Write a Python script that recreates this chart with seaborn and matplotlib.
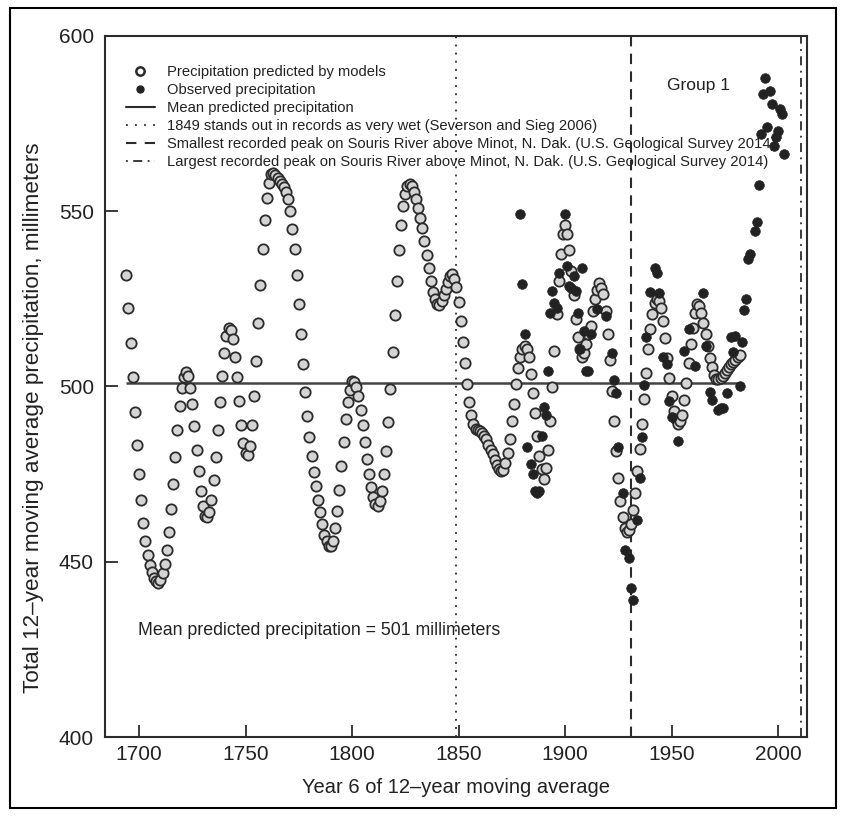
import numpy as np
import pandas as pd
import matplotlib
matplotlib.use("Agg")
import matplotlib.pyplot as plt
import seaborn as sns
from matplotlib.lines import Line2D
from matplotlib.patches import Rectangle

# ---------------- data ----------------
pred_start_year = 1694
pred_values = [
    531.7, 522.3, 512.5, 502.7, 492.7, 483.4, 474.9, 467.5, 461.0, 456.0,
    452.0, 449.1, 447.0, 445.4, 444.4, 444.0, 444.8, 446.8, 449.3, 453.3,
    458.6, 465.0, 472.3, 480.0, 487.6, 494.3, 499.7, 502.6, 504.0, 503.0,
    499.7, 494.9, 488.7, 482.0, 475.8, 470.1, 465.8, 463.0, 462.7, 464.3,
    467.7, 473.2, 479.9, 487.7, 495.5, 503.0, 509.6, 514.3, 516.6, 516.0,
    513.5, 508.5, 502.7, 495.8, 489.0, 484.0, 481.0, 480.5, 483.1, 488.9,
    497.2, 507.2, 518.2, 529.1, 539.3, 547.5, 553.9, 558.0, 560.6, 560.9,
    560.3, 559.6, 558.7, 557.7, 556.8, 555.6, 553.4, 550.1, 545.0, 539.1,
    531.7, 523.4, 514.9, 506.3, 498.4, 491.5, 485.5, 480.3, 475.7, 471.5,
    467.7, 464.2, 460.8, 457.7, 455.8, 454.4, 454.4, 456.0, 459.6, 464.6,
    470.6, 477.4, 484.2, 490.6, 495.6, 499.1, 501.5, 501.3, 499.9, 497.2,
    493.4, 489.0, 484.2, 479.4, 475.0, 471.3, 468.4, 466.6, 465.8, 467.2,
    470.1, 474.9, 481.5, 489.9, 499.4, 509.8, 520.4, 530.1, 538.9, 546.0,
    551.5, 555.0, 557.2, 557.7, 557.2, 555.6, 553.6, 551.0, 548.2, 545.1,
    541.5, 537.4, 533.7, 530.1, 527.0, 524.9, 523.6, 523.2, 524.4, 526.0,
    527.9, 529.8, 531.5, 532.0, 530.8, 528.4, 524.2, 518.8, 512.8, 506.6,
    500.6, 495.6, 492.0, 489.4, 487.9, 487.5, 487.2, 486.8, 486.0, 484.9,
    483.4, 482.0, 480.6, 479.1, 477.7, 476.5, 475.8, 476.1, 478.2, 480.9,
    485.0, 490.1, 495.1, 500.6, 505.3, 508.5, 510.8, 511.5, 510.6, 508.5,
    503.7, 498.2, 492.3, 486.0, 480.3, 476.5, 473.6, 476.8, 482.0, 490.1,
    499.8, 510.1, 520.6, 530.1, 537.9, 543.6, 546.0, 543.4, 538.9, 532.9,
    526.1, 519.4, 514.2, 510.6, 508.5, 509.7, 512.0, 515.0, 517.2, 521.5,
    525.1, 527.5, 529.6, 528.0, 526.3, 521.5, 515.1, 507.5, 498.7, 490.1,
    481.5, 473.9, 467.2, 462.7, 459.5, 458.4, 459.1, 460.9, 464.9, 469.6,
    475.8, 482.2, 489.4, 496.5, 503.9, 510.6, 516.3, 520.6, 523.9, 524.9,
    524.4, 522.5, 518.7, 513.9, 508.2, 502.5, 497.2, 493.0, 490.6, 489.4,
    490.1, 492.0, 496.1, 501.0, 506.6, 512.0, 516.8, 521.0, 523.4, 523.0,
    521.0, 518.2, 514.9, 511.5, 508.2, 505.6, 503.4, 502.2, 502.0, 502.5,
    503.1, 503.9, 504.7, 505.6, 506.3, 506.9, 507.7, 508.4, 509.0,
]
pred_years = list(range(pred_start_year, pred_start_year + len(pred_values)))

obs_years = [
    1879, 1880, 1881, 1882, 1884, 1885, 1886, 1887, 1888, 1889,
    1890, 1891, 1892, 1893, 1894, 1895, 1896, 1897, 1900, 1901,
    1902, 1903, 1904, 1905, 1906, 1907, 1908, 1909, 1910, 1911,
    1912, 1915, 1919, 1922, 1923, 1924, 1925, 1927, 1928, 1930,
    1931, 1932, 1934, 1935, 1936, 1937, 1938, 1940, 1942, 1943,
    1944, 1946, 1948, 1949, 1950, 1953, 1956, 1958, 1961, 1965,
    1966, 1968, 1969, 1972, 1973, 1974, 1976, 1978, 1979, 1980,
    1982, 1983, 1984, 1985, 1986, 1987, 1989, 1990, 1991, 1992,
    1993, 1994, 1995, 1996, 1997, 1998, 1999, 2000, 2001, 2002,
    2003,
]
obs_values = [
    549.3, 529.2, 514.9, 482.6, 477.8, 475.0, 470.1, 469.5, 470.1, 485.8,
    494.2, 492.0, 504.4, 521.0, 527.2, 523.8, 522.5, 532.5, 549.1, 534.4,
    528.7, 528.1, 531.5, 527.2, 521.0, 510.6, 533.7, 515.8, 504.4, 504.4,
    514.9, 522.0, 520.1, 509.6, 501.8, 498.2, 482.6, 469.6, 453.4, 451.0,
    442.5, 439.0, 462.0, 473.9, 485.7, 500.5, 514.0, 527.1, 533.7, 532.5,
    526.6, 508.5, 506.5, 495.8, 491.2, 484.4, 510.0, 516.3, 505.8, 526.7,
    511.5, 498.3, 496.2, 493.4, 493.9, 494.0, 498.2, 514.2, 509.8, 514.4,
    500.1, 512.7, 521.8, 525.0, 536.5, 537.7, 544.4, 546.8, 557.4, 572.0,
    583.4, 588.0, 573.9, 584.2, 580.6, 568.5, 571.3, 573.0, 579.1, 577.7,
    566.3,
]

mean_pred = 501
year_wet = 1849
year_small_peak = 1931
year_large_peak = 2011

legend_labels = [
    "Precipitation predicted by models",
    "Observed precipitation",
    "Mean predicted precipitation",
    "1849 stands out in records as very wet (Severson and Sieg 2006)",
    "Smallest recorded peak on Souris River above Minot, N. Dak. (U.S. Geological Survey 2014)",
    "Largest recorded peak on Souris River above Minot, N. Dak. (U.S. Geological Survey 2014)",
]

pred_df = pd.DataFrame({"year": pred_years, "precip": pred_values})
obs_df = pd.DataFrame({"year": obs_years, "precip": obs_values})

# ---------------- style ----------------
sns.set_style("ticks")
plt.rcParams["font.family"] = ["Liberation Sans", "DejaVu Sans"]

INK = "#2b2b2b"
TXT = "#222222"
fig = plt.figure(figsize=(8.47, 8.21), dpi=100)
ax = fig.add_axes([105 / 847, 1 - 737 / 821, (807 - 105) / 847, (737 - 36) / 821])

sns.scatterplot(data=pred_df, x="year", y="precip", ax=ax, s=55,
                color="#d4d4d4", edgecolor=INK, linewidth=1.3, zorder=3, legend=False)
sns.scatterplot(data=obs_df, x="year", y="precip", ax=ax, s=48,
                color="#222222", edgecolor="#222222", linewidth=0.5, zorder=4, legend=False)

ax.hlines(mean_pred, pred_years[0], pred_years[-1], color="#444444", lw=1.8, zorder=2)
ax.axvline(year_wet, color=INK, lw=1.3, ls=(0, (1, 3.5)), zorder=1)
ax.axvline(year_small_peak, color=INK, lw=1.5, ls=(0, (5, 3.5)), zorder=1)
ax.axvline(year_large_peak, color=INK, lw=1.3, ls=(0, (5, 3, 1, 3)), zorder=1)

ax.set_xlim(1684, 2013.6)
ax.set_ylim(400, 600)
ax.set_xticks([1700, 1750, 1800, 1850, 1900, 1950, 2000])
ax.set_yticks([400, 450, 500, 550, 600])
ax.tick_params(direction="in", length=9, width=1.3, color=INK, labelsize=15,
               labelcolor=TXT, pad=6)
ax.tick_params(axis="y", pad=8)
for side in ["left", "bottom", "top", "right"]:
    ax.spines[side].set_visible(True)
    ax.spines[side].set_color(INK)
    ax.spines[side].set_linewidth(1.5)

ax.set_xlabel("Year 6 of 12\u2013year moving average", fontsize=14.5, color=TXT, labelpad=10)
ax.set_ylabel("Total 12\u2013year moving average precipitation, millimeters", fontsize=16.2,
              color=TXT)
ax.yaxis.set_label_coords(-0.087, 0.456)

ax.text(1699.5, 430.3, "Mean predicted precipitation = 501 millimeters", fontsize=12.8,
        color=TXT, va="center", ha="left")
ax.text(1948, 586, "Group 1", fontsize=12.5, color=TXT, va="center", ha="left")

handles = [
    Line2D([], [], ls="none", marker="o", markersize=6, markerfacecolor="white",
           markeredgecolor=INK, markeredgewidth=1.8),
    Line2D([], [], ls="none", marker="o", markersize=5, markerfacecolor="#222222",
           markeredgecolor="#222222"),
    Line2D([], [], color=INK, lw=1.5, ls="-"),
    Line2D([], [], color=INK, lw=1.3, ls=(0, (1, 4))),
    Line2D([], [], color=INK, lw=1.5, ls=(0, (5, 4))),
    Line2D([], [], color=INK, lw=1.3, ls=(0, (1, 3, 5, 3))),
]
leg = ax.legend(handles, legend_labels, loc="upper left", bbox_to_anchor=(0.030, 0.958),
                frameon=False, fontsize=10.6, handlelength=1.95, handletextpad=0.85,
                labelspacing=0.27, borderaxespad=0.0, borderpad=0.0)
for t in leg.get_texts():
    t.set_color(TXT)

fig.patches.append(Rectangle((10 / 847, 1 - 808 / 821), (836 - 10) / 847, (808 - 8) / 821,
                             transform=fig.transFigure, fill=False, ec="black", lw=1.5))

fig.savefig("out.png", dpi=100)
